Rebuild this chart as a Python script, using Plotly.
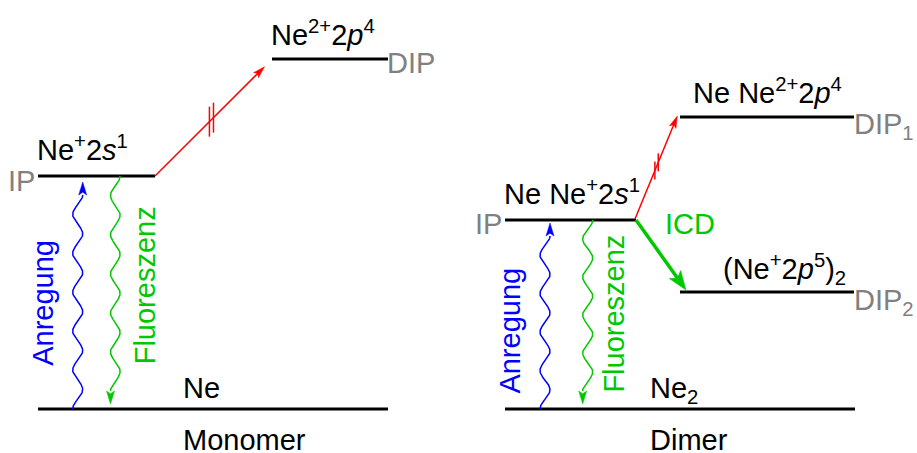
import numpy as np
import plotly.graph_objects as go

W, H = 917, 453
BASE = 409  # pixel row of the ground-state line; energies are measured upward from it

# ---------------- data ----------------
panel_titles = ["Monomer", "Dimer"]

# Monomer: ground, IP, DIP
mono_labels = ["Ne", "Ne<sup>+</sup>2<i>s</i><sup>1</sup>", "Ne<sup>2+</sup>2<i>p</i><sup>4</sup>"]
mono_tags = ["", "IP", "DIP"]
mono_energy = [0, 233, 350]
mono_x0 = [38, 38, 272]
mono_x1 = [388, 155, 388]

# Dimer: ground, IP, DIP1, DIP2
dimer_labels = ["Ne<sub>2</sub>", "Ne Ne<sup>+</sup>2<i>s</i><sup>1</sup>",
                "Ne Ne<sup>2+</sup>2<i>p</i><sup>4</sup>", "(Ne<sup>+</sup>2<i>p</i><sup>5</sup>)<sub>2</sub>"]
dimer_tags = ["", "IP", "DIP<sub>1</sub>", "DIP<sub>2</sub>"]
dimer_energy = [0, 189, 292, 117]
dimer_x0 = [505, 505, 680, 680]
dimer_x1 = [855, 636, 854, 854]

process_labels = ["Anregung", "Fluoreszenz", "ICD"]

FONT = "Liberation Sans, Arial, sans-serif"
FS = 29
BLUE = "#0000ff"
GREEN = "#00c800"
RED = "#ff0000"
GRAY = "#808080"

fig = go.Figure()


def E(ypix):
    return BASE - ypix


def line(xs, ys, color, width):
    fig.add_trace(go.Scatter(x=xs, y=ys, mode="lines", line=dict(color=color, width=width),
                             hoverinfo="skip", showlegend=False))


def head(tip, base, length, width, color, notch=0.22):
    tip = np.array(tip, float)
    base = np.array(base, float)
    d = tip - base
    d /= np.linalg.norm(d)
    n = np.array([-d[1], d[0]])
    back = tip - d * length
    p1 = back + n * width / 2
    p2 = back - n * width / 2
    pn = tip - d * length * (1 - notch)
    pts = [tip, p1, pn, p2, tip]
    fig.add_trace(go.Scatter(x=[p[0] for p in pts], y=[p[1] for p in pts], mode="lines",
                             fill="toself", fillcolor=color, line=dict(color=color, width=0.5),
                             hoverinfo="skip", showlegend=False))


def wave(cx, amp, e_start, e_end, half_periods, sign, color, head_len=13, head_w=8):
    t = np.linspace(0, 1, 400)
    ys = e_start + (e_end - e_start) * t
    xs = cx + sign * amp * np.cos(np.pi * half_periods * t)
    line(xs, ys, color, 1.5)
    xe = xs[-1]
    direction = np.sign(e_end - e_start)
    head((xe, e_end + direction * head_len), (xe, e_end), head_len, head_w, color)


def arrow(p0, p1, color, width, head_len, head_w):
    d = np.array(p1, float) - np.array(p0, float)
    u = d / np.linalg.norm(d)
    end = np.array(p1, float) - u * head_len * 0.7
    line([p0[0], end[0]], [p0[1], end[1]], color, width)
    head(p1, p0, head_len, head_w, color)


def ticks(p0, p1, frac, sep, length, color):
    p0 = np.array(p0, float)
    p1 = np.array(p1, float)
    for f in (frac, frac + sep):
        c = p0 + (p1 - p0) * f
        line([c[0], c[0]], [c[1] - length / 2, c[1] + length / 2], color, 1.5)


def text(s, x, ypix, color="black", xanchor="left", yanchor="middle", angle=0):
    fig.add_annotation(x=x, y=E(ypix), text=s, showarrow=False, xanchor=xanchor, yanchor=yanchor,
                       textangle=angle, borderpad=0, borderwidth=0,
                       font=dict(family=FONT, size=FS, color=color))


# ---------------- levels ----------------
for e, a, b in zip(mono_energy, mono_x0, mono_x1):
    line([a, b], [e, e], "black", 3)
for e, a, b in zip(dimer_energy, dimer_x0, dimer_x1):
    line([a, b], [e, e], "black", 3)

# ---------------- monomer processes ----------------
wave(77.7, 5, mono_energy[0], E(195), 11, -1, BLUE)
wave(115.3, 4.8, mono_energy[1], E(391), 11, 1, GREEN)
m_start = (mono_x1[1], mono_energy[1])
m_end = (264.5, E(66.7))
arrow(m_start, m_end, RED, 1.5, 12, 7)
ticks(m_start, m_end, 0.497, 0.037, 30, RED)

# ---------------- dimer processes ----------------
wave(545, 5, dimer_energy[0], E(236), 9, -1, BLUE)
wave(587.7, 5, dimer_energy[1], E(391), 9, 1, GREEN)
d_start = (dimer_x1[1] - 1, dimer_energy[1] + 1)
d_end = (677.3, E(116))
arrow(d_start, d_end, RED, 1.5, 12, 7)
ticks(d_start, d_end, 0.47, 0.08, 18, RED)
arrow((dimer_x1[1], dimer_energy[1]), (686, E(290)), GREEN, 3.5, 19, 14)

# ---------------- texts ----------------
# monomer
text(mono_labels[0], 183, 388)
text(mono_labels[1], 37, 160 + 6, yanchor="bottom")
text(mono_labels[2], 271, 45 + 6, yanchor="bottom")
text(mono_tags[1], 8, 181, color=GRAY)
text(mono_tags[2], 387, 63, color=GRAY)
text(process_labels[0], 42.3, 302.5, color=BLUE, xanchor="center", angle=-90)
text(process_labels[1], 145.3, 285, color=GREEN, xanchor="center", angle=-90)
text(panel_titles[0], 183, 440)

# dimer
text(dimer_labels[0], 650, 395 + 12.6, yanchor="bottom")
text(dimer_labels[1], 504, 204 + 6, yanchor="bottom")
text(dimer_labels[2], 693, 102.7 + 6, yanchor="bottom")
text(dimer_labels[3], 723, 276.7 + 12.6, yanchor="bottom")
text(dimer_tags[1], 475, 224, color=GRAY)
text(dimer_tags[2], 854, 131.7 + 12.6, color=GRAY, yanchor="bottom")
text(dimer_tags[3], 854, 307.3 + 12.6, color=GRAY, yanchor="bottom")
text(process_labels[2], 665, 224, color=GREEN)
text(process_labels[0], 509.6, 331, color=BLUE, xanchor="center", angle=-90)
text(process_labels[1], 613.6, 314, color=GREEN, xanchor="center", angle=-90)
text(panel_titles[1], 650, 440)

fig.update_layout(
    width=W, height=H, autosize=False,
    margin=dict(l=0, r=0, t=0, b=0),
    paper_bgcolor="white", plot_bgcolor="white",
    xaxis=dict(range=[0, W], visible=False, fixedrange=True),
    yaxis=dict(range=[BASE - H, BASE], visible=False, fixedrange=True),
    showlegend=False,
)

fig.write_html("out.html", config={"displayModeBar": False},
               post_script="document.body.style.margin='0';document.body.style.overflow='hidden';")
